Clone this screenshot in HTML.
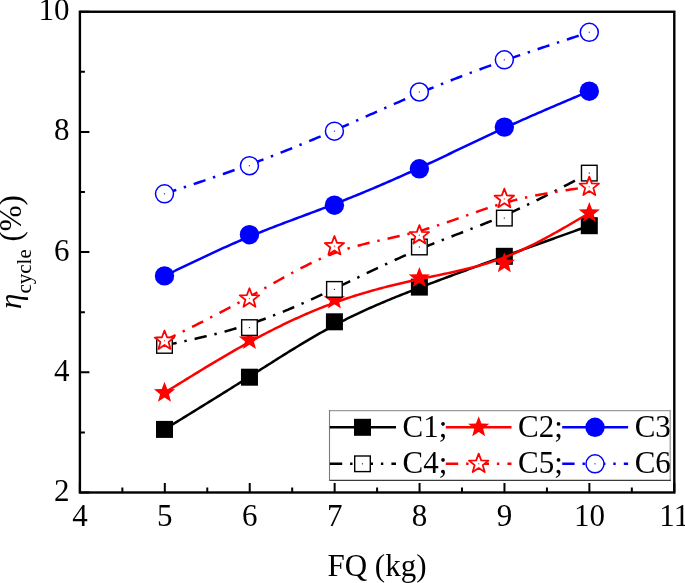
<!DOCTYPE html>
<html><head><meta charset="utf-8"><style>
html,body{margin:0;padding:0;background:#fff;}
body{width:685px;height:583px;overflow:hidden;}
svg{display:block;}
text{font-family:"Liberation Serif",serif;fill:#000;}
.t{will-change:transform;}
</style></head><body>
<svg class="t" width="685" height="583" viewBox="0 0 685 583">
<rect width="685" height="583" fill="#fff"/>
<path d="M164.50,429.40 L166.62,428.09 L168.75,426.79 L170.87,425.48 L173.00,424.18 L175.12,422.87 L177.24,421.57 L179.37,420.26 L181.49,418.96 L183.62,417.65 L185.74,416.34 L187.86,415.03 L189.99,413.73 L192.11,412.42 L194.24,411.11 L196.36,409.80 L198.48,408.49 L200.61,407.17 L202.73,405.86 L204.86,404.55 L206.98,403.23 L209.10,401.92 L211.23,400.60 L213.35,399.28 L215.48,397.96 L217.60,396.64 L219.72,395.32 L221.85,394.00 L223.97,392.68 L226.10,391.35 L228.22,390.02 L230.34,388.70 L232.47,387.37 L234.59,386.04 L236.72,384.70 L238.84,383.37 L240.96,382.03 L243.09,380.69 L245.21,379.35 L247.34,378.01 L249.46,376.67 L251.58,375.32 L253.71,373.97 L255.83,372.62 L257.96,371.27 L260.08,369.92 L262.20,368.57 L264.33,367.22 L266.45,365.87 L268.58,364.53 L270.70,363.18 L272.82,361.83 L274.95,360.49 L277.07,359.15 L279.20,357.81 L281.32,356.48 L283.44,355.15 L285.57,353.82 L287.69,352.50 L289.82,351.18 L291.94,349.86 L294.06,348.56 L296.19,347.26 L298.31,345.96 L300.44,344.67 L302.56,343.39 L304.68,342.11 L306.81,340.85 L308.93,339.59 L311.06,338.34 L313.18,337.10 L315.30,335.86 L317.43,334.64 L319.55,333.43 L321.68,332.23 L323.80,331.04 L325.92,329.85 L328.05,328.69 L330.17,327.53 L332.30,326.38 L334.42,325.25 L336.54,324.13 L338.67,323.02 L340.79,321.93 L342.92,320.85 L345.04,319.77 L347.16,318.72 L349.29,317.67 L351.41,316.63 L353.54,315.61 L355.66,314.59 L357.78,313.59 L359.91,312.59 L362.03,311.61 L364.16,310.63 L366.28,309.66 L368.40,308.71 L370.53,307.76 L372.65,306.82 L374.78,305.89 L376.90,304.96 L379.02,304.05 L381.15,303.14 L383.27,302.24 L385.40,301.34 L387.52,300.45 L389.64,299.57 L391.77,298.70 L393.89,297.83 L396.02,296.96 L398.14,296.10 L400.26,295.25 L402.39,294.40 L404.51,293.56 L406.64,292.72 L408.76,291.88 L410.88,291.05 L413.01,290.22 L415.13,289.39 L417.26,288.57 L419.38,287.75 L421.50,286.93 L423.63,286.12 L425.75,285.30 L427.88,284.49 L430.00,283.69 L432.12,282.88 L434.25,282.08 L436.37,281.27 L438.50,280.47 L440.62,279.67 L442.74,278.88 L444.87,278.08 L446.99,277.29 L449.12,276.50 L451.24,275.71 L453.36,274.92 L455.49,274.14 L457.61,273.35 L459.74,272.57 L461.86,271.79 L463.98,271.00 L466.11,270.22 L468.23,269.45 L470.36,268.67 L472.48,267.89 L474.60,267.12 L476.73,266.34 L478.85,265.57 L480.98,264.80 L483.10,264.02 L485.22,263.25 L487.35,262.48 L489.47,261.71 L491.60,260.94 L493.72,260.17 L495.84,259.40 L497.97,258.64 L500.09,257.87 L502.22,257.10 L504.34,256.33 L506.46,255.57 L508.59,254.80 L510.71,254.03 L512.84,253.26 L514.96,252.50 L517.08,251.73 L519.21,250.96 L521.33,250.20 L523.46,249.43 L525.58,248.66 L527.70,247.90 L529.83,247.13 L531.95,246.37 L534.08,245.60 L536.20,244.83 L538.32,244.07 L540.45,243.30 L542.57,242.54 L544.70,241.77 L546.82,241.00 L548.94,240.24 L551.07,239.47 L553.19,238.71 L555.32,237.94 L557.44,237.18 L559.56,236.41 L561.69,235.65 L563.81,234.88 L565.94,234.12 L568.06,233.35 L570.18,232.59 L572.31,231.82 L574.43,231.06 L576.56,230.29 L578.68,229.53 L580.80,228.76 L582.93,228.00 L585.05,227.23 L587.18,226.47 L589.30,225.70" fill="none" stroke="#000" stroke-width="2.5" stroke-linejoin="round"/>
<rect x="156.00" y="420.90" width="17.0" height="17.0" fill="#000"/>
<rect x="240.96" y="368.70" width="17.0" height="17.0" fill="#000"/>
<rect x="325.92" y="313.30" width="17.0" height="17.0" fill="#000"/>
<rect x="410.88" y="278.60" width="17.0" height="17.0" fill="#000"/>
<rect x="495.84" y="247.80" width="17.0" height="17.0" fill="#000"/>
<rect x="580.80" y="217.20" width="17.0" height="17.0" fill="#000"/>
<path d="M164.50,392.80 L166.62,391.48 L168.75,390.16 L170.87,388.84 L173.00,387.52 L175.12,386.20 L177.24,384.89 L179.37,383.57 L181.49,382.26 L183.62,380.94 L185.74,379.63 L187.86,378.32 L189.99,377.02 L192.11,375.71 L194.24,374.41 L196.36,373.11 L198.48,371.81 L200.61,370.52 L202.73,369.23 L204.86,367.94 L206.98,366.66 L209.10,365.38 L211.23,364.10 L213.35,362.83 L215.48,361.57 L217.60,360.30 L219.72,359.05 L221.85,357.80 L223.97,356.55 L226.10,355.31 L228.22,354.07 L230.34,352.84 L232.47,351.62 L234.59,350.40 L236.72,349.19 L238.84,347.98 L240.96,346.79 L243.09,345.60 L245.21,344.41 L247.34,343.24 L249.46,342.07 L251.58,340.91 L253.71,339.75 L255.83,338.61 L257.96,337.47 L260.08,336.34 L262.20,335.22 L264.33,334.11 L266.45,333.00 L268.58,331.91 L270.70,330.82 L272.82,329.74 L274.95,328.67 L277.07,327.61 L279.20,326.56 L281.32,325.52 L283.44,324.49 L285.57,323.46 L287.69,322.45 L289.82,321.44 L291.94,320.45 L294.06,319.46 L296.19,318.49 L298.31,317.52 L300.44,316.57 L302.56,315.62 L304.68,314.69 L306.81,313.76 L308.93,312.85 L311.06,311.95 L313.18,311.05 L315.30,310.17 L317.43,309.30 L319.55,308.44 L321.68,307.59 L323.80,306.75 L325.92,305.93 L328.05,305.11 L330.17,304.31 L332.30,303.51 L334.42,302.73 L336.54,301.96 L338.67,301.21 L340.79,300.46 L342.92,299.73 L345.04,299.00 L347.16,298.29 L349.29,297.59 L351.41,296.89 L353.54,296.21 L355.66,295.54 L357.78,294.88 L359.91,294.23 L362.03,293.58 L364.16,292.95 L366.28,292.33 L368.40,291.71 L370.53,291.10 L372.65,290.51 L374.78,289.92 L376.90,289.34 L379.02,288.76 L381.15,288.20 L383.27,287.64 L385.40,287.09 L387.52,286.55 L389.64,286.01 L391.77,285.48 L393.89,284.96 L396.02,284.44 L398.14,283.93 L400.26,283.43 L402.39,282.93 L404.51,282.44 L406.64,281.96 L408.76,281.48 L410.88,281.00 L413.01,280.53 L415.13,280.07 L417.26,279.61 L419.38,279.15 L421.50,278.70 L423.63,278.25 L425.75,277.81 L427.88,277.36 L430.00,276.92 L432.12,276.48 L434.25,276.04 L436.37,275.60 L438.50,275.16 L440.62,274.72 L442.74,274.27 L444.87,273.82 L446.99,273.37 L449.12,272.92 L451.24,272.46 L453.36,271.99 L455.49,271.52 L457.61,271.04 L459.74,270.55 L461.86,270.05 L463.98,269.55 L466.11,269.03 L468.23,268.51 L470.36,267.97 L472.48,267.42 L474.60,266.86 L476.73,266.29 L478.85,265.71 L480.98,265.11 L483.10,264.49 L485.22,263.86 L487.35,263.21 L489.47,262.55 L491.60,261.87 L493.72,261.16 L495.84,260.45 L497.97,259.71 L500.09,258.95 L502.22,258.17 L504.34,257.37 L506.46,256.54 L508.59,255.70 L510.71,254.83 L512.84,253.94 L514.96,253.04 L517.08,252.11 L519.21,251.17 L521.33,250.20 L523.46,249.22 L525.58,248.22 L527.70,247.21 L529.83,246.17 L531.95,245.13 L534.08,244.07 L536.20,242.99 L538.32,241.90 L540.45,240.79 L542.57,239.68 L544.70,238.55 L546.82,237.41 L548.94,236.26 L551.07,235.09 L553.19,233.92 L555.32,232.74 L557.44,231.55 L559.56,230.35 L561.69,229.14 L563.81,227.93 L565.94,226.71 L568.06,225.48 L570.18,224.25 L572.31,223.01 L574.43,221.77 L576.56,220.52 L578.68,219.28 L580.80,218.02 L582.93,216.77 L585.05,215.51 L587.18,214.26 L589.30,213.00" fill="none" stroke="#f00" stroke-width="2.5" stroke-linejoin="round"/>
<path d="M164.50,381.70 L167.24,389.03 L175.06,389.37 L168.93,394.24 L171.02,401.78 L164.50,397.46 L157.98,401.78 L160.07,394.24 L153.94,389.37 L161.76,389.03Z" fill="#f00"/>
<path d="M249.46,328.90 L252.20,336.23 L260.02,336.57 L253.89,341.44 L255.98,348.98 L249.46,344.66 L242.94,348.98 L245.03,341.44 L238.90,336.57 L246.72,336.23Z" fill="#f00"/>
<path d="M334.42,288.50 L337.16,295.83 L344.98,296.17 L338.85,301.04 L340.94,308.58 L334.42,304.26 L327.90,308.58 L329.99,301.04 L323.86,296.17 L331.68,295.83Z" fill="#f00"/>
<path d="M419.38,266.90 L422.12,274.23 L429.94,274.57 L423.81,279.44 L425.90,286.98 L419.38,282.66 L412.86,286.98 L414.95,279.44 L408.82,274.57 L416.64,274.23Z" fill="#f00"/>
<path d="M504.34,252.20 L507.08,259.53 L514.90,259.87 L508.77,264.74 L510.86,272.28 L504.34,267.96 L497.82,272.28 L499.91,264.74 L493.78,259.87 L501.60,259.53Z" fill="#f00"/>
<path d="M589.30,201.90 L592.04,209.23 L599.86,209.57 L593.73,214.44 L595.82,221.98 L589.30,217.66 L582.78,221.98 L584.87,214.44 L578.74,209.57 L586.56,209.23Z" fill="#f00"/>
<path d="M164.50,275.90 L166.62,274.87 L168.75,273.84 L170.87,272.81 L173.00,271.78 L175.12,270.75 L177.24,269.73 L179.37,268.70 L181.49,267.68 L183.62,266.65 L185.74,265.63 L187.86,264.61 L189.99,263.59 L192.11,262.58 L194.24,261.56 L196.36,260.55 L198.48,259.54 L200.61,258.54 L202.73,257.54 L204.86,256.54 L206.98,255.54 L209.10,254.55 L211.23,253.56 L213.35,252.58 L215.48,251.60 L217.60,250.63 L219.72,249.66 L221.85,248.69 L223.97,247.73 L226.10,246.77 L228.22,245.82 L230.34,244.88 L232.47,243.94 L234.59,243.00 L236.72,242.08 L238.84,241.16 L240.96,240.24 L243.09,239.33 L245.21,238.43 L247.34,237.54 L249.46,236.65 L251.58,235.77 L253.71,234.90 L255.83,234.03 L257.96,233.17 L260.08,232.32 L262.20,231.47 L264.33,230.63 L266.45,229.79 L268.58,228.96 L270.70,228.13 L272.82,227.31 L274.95,226.49 L277.07,225.67 L279.20,224.86 L281.32,224.05 L283.44,223.25 L285.57,222.44 L287.69,221.64 L289.82,220.85 L291.94,220.05 L294.06,219.26 L296.19,218.46 L298.31,217.67 L300.44,216.88 L302.56,216.08 L304.68,215.29 L306.81,214.50 L308.93,213.71 L311.06,212.91 L313.18,212.12 L315.30,211.32 L317.43,210.53 L319.55,209.73 L321.68,208.93 L323.80,208.12 L325.92,207.31 L328.05,206.50 L330.17,205.69 L332.30,204.87 L334.42,204.05 L336.54,203.22 L338.67,202.39 L340.79,201.56 L342.92,200.72 L345.04,199.88 L347.16,199.03 L349.29,198.18 L351.41,197.32 L353.54,196.46 L355.66,195.60 L357.78,194.73 L359.91,193.86 L362.03,192.99 L364.16,192.11 L366.28,191.22 L368.40,190.34 L370.53,189.44 L372.65,188.55 L374.78,187.65 L376.90,186.75 L379.02,185.84 L381.15,184.93 L383.27,184.01 L385.40,183.10 L387.52,182.17 L389.64,181.25 L391.77,180.32 L393.89,179.39 L396.02,178.45 L398.14,177.51 L400.26,176.57 L402.39,175.62 L404.51,174.67 L406.64,173.71 L408.76,172.76 L410.88,171.79 L413.01,170.83 L415.13,169.86 L417.26,168.89 L419.38,167.92 L421.50,166.94 L423.63,165.96 L425.75,164.97 L427.88,163.99 L430.00,163.00 L432.12,162.01 L434.25,161.01 L436.37,160.02 L438.50,159.02 L440.62,158.02 L442.74,157.02 L444.87,156.01 L446.99,155.01 L449.12,154.00 L451.24,153.00 L453.36,151.99 L455.49,150.98 L457.61,149.98 L459.74,148.97 L461.86,147.96 L463.98,146.95 L466.11,145.95 L468.23,144.94 L470.36,143.93 L472.48,142.93 L474.60,141.92 L476.73,140.92 L478.85,139.92 L480.98,138.92 L483.10,137.92 L485.22,136.92 L487.35,135.93 L489.47,134.94 L491.60,133.95 L493.72,132.96 L495.84,131.97 L497.97,130.99 L500.09,130.01 L502.22,129.04 L504.34,128.07 L506.46,127.10 L508.59,126.13 L510.71,125.17 L512.84,124.21 L514.96,123.26 L517.08,122.31 L519.21,121.36 L521.33,120.41 L523.46,119.47 L525.58,118.53 L527.70,117.60 L529.83,116.66 L531.95,115.73 L534.08,114.80 L536.20,113.87 L538.32,112.95 L540.45,112.03 L542.57,111.11 L544.70,110.19 L546.82,109.27 L548.94,108.36 L551.07,107.44 L553.19,106.53 L555.32,105.62 L557.44,104.71 L559.56,103.81 L561.69,102.90 L563.81,102.00 L565.94,101.09 L568.06,100.19 L570.18,99.29 L572.31,98.39 L574.43,97.49 L576.56,96.59 L578.68,95.69 L580.80,94.79 L582.93,93.89 L585.05,93.00 L587.18,92.10 L589.30,91.20" fill="none" stroke="#00f" stroke-width="2.5" stroke-linejoin="round"/>
<circle cx="164.50" cy="275.90" r="9.7" fill="#00f"/>
<circle cx="249.46" cy="234.70" r="9.7" fill="#00f"/>
<circle cx="334.42" cy="205.20" r="9.7" fill="#00f"/>
<circle cx="419.38" cy="168.80" r="9.7" fill="#00f"/>
<circle cx="504.34" cy="127.10" r="9.7" fill="#00f"/>
<circle cx="589.30" cy="91.20" r="9.7" fill="#00f"/>
<path d="M164.50,345.40 L166.62,344.95 L168.75,344.51 L170.87,344.06 L173.00,343.62 L175.12,343.17 L177.24,342.72 L179.37,342.27 L181.49,341.81 L183.62,341.36 L185.74,340.90 L187.86,340.43 L189.99,339.97 L192.11,339.50 L194.24,339.02 L196.36,338.55 L198.48,338.06 L200.61,337.57 L202.73,337.08 L204.86,336.58 L206.98,336.07 L209.10,335.56 L211.23,335.04 L213.35,334.52 L215.48,333.99 L217.60,333.44 L219.72,332.90 L221.85,332.34 L223.97,331.77 L226.10,331.20 L228.22,330.62 L230.34,330.02 L232.47,329.42 L234.59,328.81 L236.72,328.18 L238.84,327.55 L240.96,326.90 L243.09,326.24 L245.21,325.57 L247.34,324.89 L249.46,324.20 L251.58,323.49 L253.71,322.77 L255.83,322.04 L257.96,321.30 L260.08,320.55 L262.20,319.78 L264.33,319.00 L266.45,318.21 L268.58,317.41 L270.70,316.60 L272.82,315.78 L274.95,314.95 L277.07,314.12 L279.20,313.27 L281.32,312.41 L283.44,311.54 L285.57,310.66 L287.69,309.78 L289.82,308.89 L291.94,307.99 L294.06,307.08 L296.19,306.16 L298.31,305.24 L300.44,304.31 L302.56,303.37 L304.68,302.43 L306.81,301.48 L308.93,300.53 L311.06,299.57 L313.18,298.60 L315.30,297.63 L317.43,296.65 L319.55,295.67 L321.68,294.69 L323.80,293.70 L325.92,292.71 L328.05,291.71 L330.17,290.71 L332.30,289.71 L334.42,288.70 L336.54,287.69 L338.67,286.68 L340.79,285.67 L342.92,284.65 L345.04,283.64 L347.16,282.62 L349.29,281.60 L351.41,280.58 L353.54,279.56 L355.66,278.54 L357.78,277.52 L359.91,276.50 L362.03,275.48 L364.16,274.46 L366.28,273.45 L368.40,272.43 L370.53,271.42 L372.65,270.41 L374.78,269.40 L376.90,268.39 L379.02,267.39 L381.15,266.39 L383.27,265.39 L385.40,264.40 L387.52,263.41 L389.64,262.43 L391.77,261.45 L393.89,260.47 L396.02,259.50 L398.14,258.54 L400.26,257.58 L402.39,256.63 L404.51,255.68 L406.64,254.74 L408.76,253.81 L410.88,252.88 L413.01,251.96 L415.13,251.05 L417.26,250.15 L419.38,249.25 L421.50,248.36 L423.63,247.48 L425.75,246.61 L427.88,245.75 L430.00,244.89 L432.12,244.04 L434.25,243.19 L436.37,242.35 L438.50,241.51 L440.62,240.68 L442.74,239.85 L444.87,239.03 L446.99,238.21 L449.12,237.39 L451.24,236.57 L453.36,235.75 L455.49,234.94 L457.61,234.12 L459.74,233.31 L461.86,232.50 L463.98,231.68 L466.11,230.86 L468.23,230.05 L470.36,229.22 L472.48,228.40 L474.60,227.57 L476.73,226.74 L478.85,225.91 L480.98,225.07 L483.10,224.23 L485.22,223.38 L487.35,222.52 L489.47,221.66 L491.60,220.79 L493.72,219.92 L495.84,219.04 L497.97,218.14 L500.09,217.24 L502.22,216.34 L504.34,215.42 L506.46,214.49 L508.59,213.55 L510.71,212.60 L512.84,211.64 L514.96,210.68 L517.08,209.70 L519.21,208.72 L521.33,207.73 L523.46,206.73 L525.58,205.72 L527.70,204.70 L529.83,203.68 L531.95,202.65 L534.08,201.61 L536.20,200.57 L538.32,199.52 L540.45,198.46 L542.57,197.40 L544.70,196.34 L546.82,195.26 L548.94,194.19 L551.07,193.11 L553.19,192.02 L555.32,190.93 L557.44,189.83 L559.56,188.73 L561.69,187.63 L563.81,186.53 L565.94,185.42 L568.06,184.31 L570.18,183.19 L572.31,182.08 L574.43,180.96 L576.56,179.84 L578.68,178.72 L580.80,177.60 L582.93,176.47 L585.05,175.35 L587.18,174.22 L589.30,173.10" fill="none" stroke="#000" stroke-width="2.5" stroke-linejoin="round" stroke-dasharray="12.4 7.9 2.4 8.1"/>
<rect x="156.70" y="337.60" width="15.6" height="15.6" fill="#fff" stroke="#000" stroke-width="1.4"/><rect x="163.90" y="344.80" width="1.2" height="1.2" fill="#000" opacity="0.8"/>
<rect x="241.66" y="319.80" width="15.6" height="15.6" fill="#fff" stroke="#000" stroke-width="1.4"/><rect x="248.86" y="327.00" width="1.2" height="1.2" fill="#000" opacity="0.8"/>
<rect x="326.62" y="281.60" width="15.6" height="15.6" fill="#fff" stroke="#000" stroke-width="1.4"/><rect x="333.82" y="288.80" width="1.2" height="1.2" fill="#000" opacity="0.8"/>
<rect x="411.58" y="239.20" width="15.6" height="15.6" fill="#fff" stroke="#000" stroke-width="1.4"/><rect x="418.78" y="246.40" width="1.2" height="1.2" fill="#000" opacity="0.8"/>
<rect x="496.54" y="210.30" width="15.6" height="15.6" fill="#fff" stroke="#000" stroke-width="1.4"/><rect x="503.74" y="217.50" width="1.2" height="1.2" fill="#000" opacity="0.8"/>
<rect x="581.50" y="165.30" width="15.6" height="15.6" fill="#fff" stroke="#000" stroke-width="1.4"/><rect x="588.70" y="172.50" width="1.2" height="1.2" fill="#000" opacity="0.8"/>
<path d="M164.50,340.70 L166.62,339.64 L168.75,338.59 L170.87,337.53 L173.00,336.48 L175.12,335.42 L177.24,334.36 L179.37,333.31 L181.49,332.25 L183.62,331.19 L185.74,330.12 L187.86,329.06 L189.99,327.99 L192.11,326.93 L194.24,325.86 L196.36,324.79 L198.48,323.71 L200.61,322.64 L202.73,321.56 L204.86,320.47 L206.98,319.39 L209.10,318.30 L211.23,317.21 L213.35,316.11 L215.48,315.02 L217.60,313.91 L219.72,312.81 L221.85,311.70 L223.97,310.58 L226.10,309.46 L228.22,308.34 L230.34,307.21 L232.47,306.08 L234.59,304.94 L236.72,303.80 L238.84,302.65 L240.96,301.49 L243.09,300.33 L245.21,299.17 L247.34,297.99 L249.46,296.82 L251.58,295.63 L253.71,294.44 L255.83,293.25 L257.96,292.05 L260.08,290.85 L262.20,289.64 L264.33,288.44 L266.45,287.23 L268.58,286.03 L270.70,284.82 L272.82,283.62 L274.95,282.42 L277.07,281.22 L279.20,280.03 L281.32,278.84 L283.44,277.66 L285.57,276.48 L287.69,275.31 L289.82,274.15 L291.94,273.00 L294.06,271.86 L296.19,270.73 L298.31,269.61 L300.44,268.50 L302.56,267.41 L304.68,266.33 L306.81,265.26 L308.93,264.21 L311.06,263.18 L313.18,262.16 L315.30,261.16 L317.43,260.18 L319.55,259.22 L321.68,258.28 L323.80,257.36 L325.92,256.46 L328.05,255.58 L330.17,254.73 L332.30,253.90 L334.42,253.10 L336.54,252.32 L338.67,251.57 L340.79,250.84 L342.92,250.14 L345.04,249.45 L347.16,248.79 L349.29,248.14 L351.41,247.52 L353.54,246.91 L355.66,246.32 L357.78,245.74 L359.91,245.18 L362.03,244.63 L364.16,244.10 L366.28,243.57 L368.40,243.06 L370.53,242.55 L372.65,242.06 L374.78,241.57 L376.90,241.08 L379.02,240.60 L381.15,240.13 L383.27,239.65 L385.40,239.18 L387.52,238.71 L389.64,238.24 L391.77,237.77 L393.89,237.30 L396.02,236.82 L398.14,236.34 L400.26,235.85 L402.39,235.36 L404.51,234.86 L406.64,234.35 L408.76,233.83 L410.88,233.30 L413.01,232.76 L415.13,232.20 L417.26,231.63 L419.38,231.05 L421.50,230.45 L423.63,229.84 L425.75,229.21 L427.88,228.57 L430.00,227.91 L432.12,227.24 L434.25,226.57 L436.37,225.88 L438.50,225.18 L440.62,224.47 L442.74,223.75 L444.87,223.03 L446.99,222.30 L449.12,221.57 L451.24,220.83 L453.36,220.08 L455.49,219.33 L457.61,218.58 L459.74,217.83 L461.86,217.08 L463.98,216.32 L466.11,215.57 L468.23,214.81 L470.36,214.06 L472.48,213.31 L474.60,212.57 L476.73,211.83 L478.85,211.09 L480.98,210.36 L483.10,209.64 L485.22,208.93 L487.35,208.22 L489.47,207.52 L491.60,206.83 L493.72,206.15 L495.84,205.49 L497.97,204.83 L500.09,204.19 L502.22,203.56 L504.34,202.95 L506.46,202.35 L508.59,201.77 L510.71,201.20 L512.84,200.64 L514.96,200.10 L517.08,199.57 L519.21,199.06 L521.33,198.55 L523.46,198.06 L525.58,197.58 L527.70,197.12 L529.83,196.66 L531.95,196.21 L534.08,195.78 L536.20,195.35 L538.32,194.93 L540.45,194.53 L542.57,194.13 L544.70,193.74 L546.82,193.36 L548.94,192.98 L551.07,192.61 L553.19,192.25 L555.32,191.90 L557.44,191.55 L559.56,191.21 L561.69,190.87 L563.81,190.54 L565.94,190.21 L568.06,189.89 L570.18,189.57 L572.31,189.25 L574.43,188.94 L576.56,188.63 L578.68,188.32 L580.80,188.01 L582.93,187.71 L585.05,187.41 L587.18,187.10 L589.30,186.80" fill="none" stroke="#f00" stroke-width="2.5" stroke-linejoin="round" stroke-dasharray="12.4 7.9 2.4 8.1"/>
<path d="M164.50,330.50 L167.02,337.23 L174.20,337.55 L168.57,342.02 L170.50,348.95 L164.50,344.98 L158.50,348.95 L160.43,342.02 L154.80,337.55 L161.98,337.23Z" fill="#fff" stroke="#f00" stroke-width="1.8" stroke-linejoin="round"/><rect x="163.90" y="340.10" width="1.2" height="1.2" fill="#f00" opacity="0.8"/>
<path d="M249.46,288.30 L251.98,295.03 L259.16,295.35 L253.53,299.82 L255.46,306.75 L249.46,302.78 L243.46,306.75 L245.39,299.82 L239.76,295.35 L246.94,295.03Z" fill="#fff" stroke="#f00" stroke-width="1.8" stroke-linejoin="round"/><rect x="248.86" y="297.90" width="1.2" height="1.2" fill="#f00" opacity="0.8"/>
<path d="M334.42,236.00 L336.94,242.73 L344.12,243.05 L338.49,247.52 L340.42,254.45 L334.42,250.48 L328.42,254.45 L330.35,247.52 L324.72,243.05 L331.90,242.73Z" fill="#fff" stroke="#f00" stroke-width="1.8" stroke-linejoin="round"/><rect x="333.82" y="245.60" width="1.2" height="1.2" fill="#f00" opacity="0.8"/>
<path d="M419.38,225.10 L421.90,231.83 L429.08,232.15 L423.45,236.62 L425.38,243.55 L419.38,239.58 L413.38,243.55 L415.31,236.62 L409.68,232.15 L416.86,231.83Z" fill="#fff" stroke="#f00" stroke-width="1.8" stroke-linejoin="round"/><rect x="418.78" y="234.70" width="1.2" height="1.2" fill="#f00" opacity="0.8"/>
<path d="M504.34,188.70 L506.86,195.43 L514.04,195.75 L508.41,200.22 L510.34,207.15 L504.34,203.18 L498.34,207.15 L500.27,200.22 L494.64,195.75 L501.82,195.43Z" fill="#fff" stroke="#f00" stroke-width="1.8" stroke-linejoin="round"/><rect x="503.74" y="198.30" width="1.2" height="1.2" fill="#f00" opacity="0.8"/>
<path d="M589.30,176.60 L591.82,183.33 L599.00,183.65 L593.37,188.12 L595.30,195.05 L589.30,191.08 L583.30,195.05 L585.23,188.12 L579.60,183.65 L586.78,183.33Z" fill="#fff" stroke="#f00" stroke-width="1.8" stroke-linejoin="round"/><rect x="588.70" y="186.20" width="1.2" height="1.2" fill="#f00" opacity="0.8"/>
<path d="M164.50,193.80 L166.62,193.10 L168.75,192.39 L170.87,191.69 L173.00,190.99 L175.12,190.29 L177.24,189.58 L179.37,188.88 L181.49,188.17 L183.62,187.47 L185.74,186.76 L187.86,186.05 L189.99,185.34 L192.11,184.63 L194.24,183.92 L196.36,183.21 L198.48,182.49 L200.61,181.78 L202.73,181.06 L204.86,180.34 L206.98,179.62 L209.10,178.89 L211.23,178.17 L213.35,177.44 L215.48,176.71 L217.60,175.98 L219.72,175.24 L221.85,174.50 L223.97,173.76 L226.10,173.02 L228.22,172.28 L230.34,171.53 L232.47,170.77 L234.59,170.02 L236.72,169.26 L238.84,168.50 L240.96,167.73 L243.09,166.96 L245.21,166.19 L247.34,165.41 L249.46,164.63 L251.58,163.85 L253.71,163.06 L255.83,162.27 L257.96,161.47 L260.08,160.67 L262.20,159.87 L264.33,159.06 L266.45,158.25 L268.58,157.43 L270.70,156.61 L272.82,155.79 L274.95,154.96 L277.07,154.13 L279.20,153.30 L281.32,152.46 L283.44,151.62 L285.57,150.77 L287.69,149.93 L289.82,149.07 L291.94,148.22 L294.06,147.36 L296.19,146.50 L298.31,145.63 L300.44,144.76 L302.56,143.89 L304.68,143.01 L306.81,142.13 L308.93,141.25 L311.06,140.37 L313.18,139.48 L315.30,138.59 L317.43,137.69 L319.55,136.79 L321.68,135.89 L323.80,134.99 L325.92,134.08 L328.05,133.17 L330.17,132.25 L332.30,131.34 L334.42,130.42 L336.54,129.49 L338.67,128.57 L340.79,127.64 L342.92,126.71 L345.04,125.78 L347.16,124.84 L349.29,123.91 L351.41,122.97 L353.54,122.03 L355.66,121.09 L357.78,120.15 L359.91,119.20 L362.03,118.26 L364.16,117.31 L366.28,116.37 L368.40,115.43 L370.53,114.48 L372.65,113.54 L374.78,112.59 L376.90,111.65 L379.02,110.70 L381.15,109.76 L383.27,108.82 L385.40,107.88 L387.52,106.94 L389.64,106.01 L391.77,105.07 L393.89,104.14 L396.02,103.21 L398.14,102.28 L400.26,101.35 L402.39,100.43 L404.51,99.51 L406.64,98.59 L408.76,97.68 L410.88,96.77 L413.01,95.86 L415.13,94.96 L417.26,94.06 L419.38,93.17 L421.50,92.28 L423.63,91.39 L425.75,90.51 L427.88,89.63 L430.00,88.76 L432.12,87.89 L434.25,87.02 L436.37,86.16 L438.50,85.31 L440.62,84.45 L442.74,83.61 L444.87,82.76 L446.99,81.92 L449.12,81.08 L451.24,80.25 L453.36,79.42 L455.49,78.60 L457.61,77.78 L459.74,76.96 L461.86,76.14 L463.98,75.33 L466.11,74.53 L468.23,73.72 L470.36,72.92 L472.48,72.13 L474.60,71.34 L476.73,70.55 L478.85,69.76 L480.98,68.98 L483.10,68.20 L485.22,67.42 L487.35,66.65 L489.47,65.88 L491.60,65.12 L493.72,64.35 L495.84,63.59 L497.97,62.84 L500.09,62.08 L502.22,61.33 L504.34,60.58 L506.46,59.84 L508.59,59.10 L510.71,58.36 L512.84,57.62 L514.96,56.89 L517.08,56.16 L519.21,55.43 L521.33,54.70 L523.46,53.98 L525.58,53.26 L527.70,52.54 L529.83,51.82 L531.95,51.10 L534.08,50.39 L536.20,49.68 L538.32,48.97 L540.45,48.26 L542.57,47.56 L544.70,46.85 L546.82,46.15 L548.94,45.45 L551.07,44.75 L553.19,44.05 L555.32,43.35 L557.44,42.65 L559.56,41.96 L561.69,41.26 L563.81,40.57 L565.94,39.88 L568.06,39.19 L570.18,38.50 L572.31,37.81 L574.43,37.12 L576.56,36.43 L578.68,35.74 L580.80,35.05 L582.93,34.36 L585.05,33.68 L587.18,32.99 L589.30,32.30" fill="none" stroke="#00f" stroke-width="2.5" stroke-linejoin="round" stroke-dasharray="12.4 7.9 2.4 8.1"/>
<circle cx="164.50" cy="193.80" r="9.0" fill="#fff" stroke="#00f" stroke-width="1.5"/><rect x="163.90" y="193.20" width="1.2" height="1.2" fill="#00f" opacity="0.8"/>
<circle cx="249.46" cy="165.70" r="9.0" fill="#fff" stroke="#00f" stroke-width="1.5"/><rect x="248.86" y="165.10" width="1.2" height="1.2" fill="#00f" opacity="0.8"/>
<circle cx="334.42" cy="131.20" r="9.0" fill="#fff" stroke="#00f" stroke-width="1.5"/><rect x="333.82" y="130.60" width="1.2" height="1.2" fill="#00f" opacity="0.8"/>
<circle cx="419.38" cy="92.00" r="9.0" fill="#fff" stroke="#00f" stroke-width="1.5"/><rect x="418.78" y="91.40" width="1.2" height="1.2" fill="#00f" opacity="0.8"/>
<circle cx="504.34" cy="59.80" r="9.0" fill="#fff" stroke="#00f" stroke-width="1.5"/><rect x="503.74" y="59.20" width="1.2" height="1.2" fill="#00f" opacity="0.8"/>
<circle cx="589.30" cy="32.30" r="9.0" fill="#fff" stroke="#00f" stroke-width="1.5"/><rect x="588.70" y="31.70" width="1.2" height="1.2" fill="#00f" opacity="0.8"/>
<rect x="79.9" y="11.75" width="594.40" height="480.75" fill="none" stroke="#000" stroke-width="2.4"/>
<path d="M79.90,492.5 V483.0 M122.36,492.5 V487.5 M164.81,492.5 V483.0 M207.27,492.5 V487.5 M249.73,492.5 V483.0 M292.19,492.5 V487.5 M334.64,492.5 V483.0 M377.10,492.5 V487.5 M419.56,492.5 V483.0 M462.01,492.5 V487.5 M504.47,492.5 V483.0 M546.93,492.5 V487.5 M589.39,492.5 V483.0 M631.84,492.5 V487.5 M674.30,492.5 V483.0 M79.9,492.50 H89.4 M79.9,432.41 H84.9 M79.9,372.31 H89.4 M79.9,312.22 H84.9 M79.9,252.12 H89.4 M79.9,192.03 H84.9 M79.9,131.94 H89.4 M79.9,71.84 H84.9 M79.9,11.75 H89.4" stroke="#000" stroke-width="2" fill="none"/>
<text x="69.6" y="500.90" font-size="31" text-anchor="end">2</text>
<text x="69.6" y="380.71" font-size="31" text-anchor="end">4</text>
<text x="69.6" y="260.52" font-size="31" text-anchor="end">6</text>
<text x="69.6" y="140.34" font-size="31" text-anchor="end">8</text>
<text x="69.6" y="20.15" font-size="31" text-anchor="end">10</text>
<text x="79.90" y="525.8" font-size="31" text-anchor="middle">4</text>
<text x="164.81" y="525.8" font-size="31" text-anchor="middle">5</text>
<text x="249.73" y="525.8" font-size="31" text-anchor="middle">6</text>
<text x="334.64" y="525.8" font-size="31" text-anchor="middle">7</text>
<text x="419.56" y="525.8" font-size="31" text-anchor="middle">8</text>
<text x="504.47" y="525.8" font-size="31" text-anchor="middle">9</text>
<text x="589.39" y="525.8" font-size="31" text-anchor="middle">10</text>
<text x="674.30" y="525.8" font-size="31" text-anchor="middle">11</text>
<text x="377" y="575.5" font-size="31" text-anchor="middle">FQ (kg)</text>
<text transform="translate(21.3,252) rotate(-90)" font-size="31" text-anchor="middle"><tspan font-style="italic">η</tspan><tspan font-size="21" dy="10">cycle</tspan><tspan dy="-10"> (%)</tspan></text>
<rect x="329.5" y="410.5" width="340.7" height="69.8" fill="#fff"/>
<path d="M328.9,410.6 H670.8" stroke="#9c9c9c" stroke-width="1.3" fill="none"/>
<path d="M670.2,410 V481" stroke="#a0a0a0" stroke-width="1.3" fill="none"/>
<path d="M328.9,480.4 H670.8" stroke="#3a3a3a" stroke-width="1.1" fill="none"/>
<path d="M329.5,410 V481" stroke="#7a7a7a" stroke-width="1.1" fill="none"/>
<path d="M329.8,427.3 H396.0" fill="none" stroke="#000" stroke-width="2.5" stroke-linejoin="round"/>
<rect x="354.00" y="418.80" width="17.0" height="17.0" fill="#000"/>
<text x="402.6" y="436.9" font-size="31">C1;</text>
<path d="M445.8,427.3 H511.5" fill="none" stroke="#f00" stroke-width="2.5" stroke-linejoin="round"/>
<path d="M478.70,416.20 L481.44,423.53 L489.26,423.87 L483.13,428.74 L485.22,436.28 L478.70,431.96 L472.18,436.28 L474.27,428.74 L468.14,423.87 L475.96,423.53Z" fill="#f00"/>
<text x="518.0" y="436.9" font-size="31">C2;</text>
<path d="M562.2,427.3 H628.1" fill="none" stroke="#00f" stroke-width="2.5" stroke-linejoin="round"/>
<circle cx="595.00" cy="427.30" r="9.7" fill="#00f"/>
<text x="634.7" y="436.9" font-size="31">C3</text>
<path d="M329.8,463.8 H396.0" fill="none" stroke="#000" stroke-width="2.5" stroke-linejoin="round" stroke-dasharray="12.4 7.9 2.4 8.1"/>
<rect x="354.70" y="456.00" width="15.6" height="15.6" fill="#fff" stroke="#000" stroke-width="1.4"/><rect x="361.90" y="463.20" width="1.2" height="1.2" fill="#000" opacity="0.8"/>
<text x="402.6" y="473.4" font-size="31">C4;</text>
<path d="M445.8,463.8 H511.5" fill="none" stroke="#f00" stroke-width="2.5" stroke-linejoin="round" stroke-dasharray="12.4 7.9 2.4 8.1"/>
<path d="M478.70,453.60 L481.22,460.33 L488.40,460.65 L482.77,465.12 L484.70,472.05 L478.70,468.08 L472.70,472.05 L474.63,465.12 L469.00,460.65 L476.18,460.33Z" fill="#fff" stroke="#f00" stroke-width="1.8" stroke-linejoin="round"/><rect x="478.10" y="463.20" width="1.2" height="1.2" fill="#f00" opacity="0.8"/>
<text x="518.0" y="473.4" font-size="31">C5;</text>
<path d="M562.2,463.8 H628.1" fill="none" stroke="#00f" stroke-width="2.5" stroke-linejoin="round" stroke-dasharray="12.4 7.9 2.4 8.1"/>
<circle cx="595.00" cy="463.80" r="9.0" fill="#fff" stroke="#00f" stroke-width="1.5"/><rect x="594.40" y="463.20" width="1.2" height="1.2" fill="#00f" opacity="0.8"/>
<text x="634.7" y="473.4" font-size="31">C6</text>
</svg></body></html>
